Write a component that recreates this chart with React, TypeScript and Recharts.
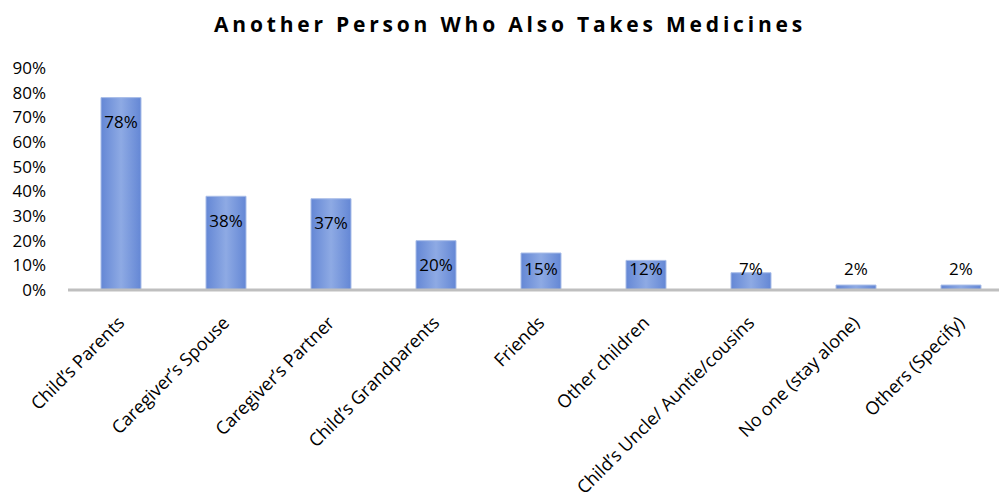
import { BarChart, Bar, XAxis, YAxis, LabelList } from "recharts";

const categories = [
  "Child’s Parents",
  "Caregiver’s Spouse",
  "Caregiver’s Partner",
  "Child’s Grandparents",
  "Friends",
  "Other children",
  "Child’s Uncle/ Auntie/cousins",
  "No one (stay alone)",
  "Others (Specify)",
];
const shares = [78, 38, 37, 20, 15, 12, 7, 2, 2];
const yTicks = [0, 10, 20, 30, 40, 50, 60, 70, 80, 90];

const data = categories.map((name, i) => ({ name, value: shares[i] }));

const FONT = "'Open Sans', sans-serif";

const AngledTick = (props: any) => {
  const { x, y, payload } = props;
  return (
    <g transform={`translate(${x + 5},${y + 26})`}>
      <text
        textAnchor="end"
        transform="rotate(-45)"
        fontFamily={FONT}
        fontSize={18}
        fill="#000"
      >
        {payload.value}
      </text>
    </g>
  );
};

const ValueLabel = (props: any) => {
  const { x, y, width, height, value } = props;
  const cy = Math.min(y + 24, y + height - 22);
  return (
    <text
      x={x + width / 2}
      y={cy}
      textAnchor="middle"
      dominantBaseline="central"
      fontFamily={FONT}
      fontSize={17}
      fill="#000"
    >
      {value}%
    </text>
  );
};

const App = () => {
  return (
    <div
      style={{
        position: "absolute",
        left: 0,
        top: 0,
        width: 999,
        height: 499,
        overflow: "hidden",
        background: "#fff",
      }}
    >
      <div
        style={{
          position: "absolute",
          top: 10,
          left: 0,
          width: 1020,
          textAlign: "center",
          fontFamily: FONT,
          fontWeight: 700,
          fontSize: 21,
          letterSpacing: 3.8,
        }}
      >
        Another Person Who Also Takes Medicines
      </div>
      <BarChart
        width={1013}
        height={499}
        data={data}
        margin={{ top: 68, right: 0, bottom: 0, left: 0 }}
        barSize={40}
        style={{ position: "absolute", left: 0, top: 0 }}
      >
        <defs>
          <linearGradient id="barFill" x1="0" y1="0" x2="1" y2="0">
            <stop offset="0%" stopColor="#6487d5" />
            <stop offset="50%" stopColor="#8eaae4" />
            <stop offset="100%" stopColor="#6487d5" />
          </linearGradient>
        </defs>
        <XAxis
          dataKey="name"
          height={209}
          interval={0}
          tickLine={false}
          axisLine={{ stroke: "#bfbfbf", strokeWidth: 3 }}
          tick={<AngledTick />}
        />
        <YAxis
          width={68}
          domain={[0, 90]}
          ticks={yTicks}
          interval={0}
          axisLine={false}
          tickLine={false}
          tickMargin={16}
          tickFormatter={(v: number) => `${v}%`}
          tick={{ fontFamily: FONT, fontSize: 17, fill: "#000" }}
        />
        <Bar
          dataKey="value"
          fill="url(#barFill)"
          stroke="#a9bde8"
          strokeWidth={1}
          isAnimationActive={false}
        >
          <LabelList dataKey="value" content={<ValueLabel />} />
        </Bar>
      </BarChart>
    </div>
  );
};

export default App;
